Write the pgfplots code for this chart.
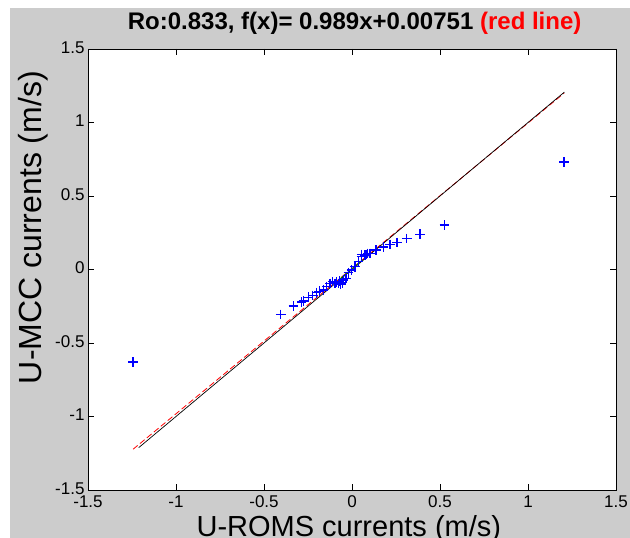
\documentclass[border=0pt]{standalone}
\usepackage{fontspec}
\setmainfont{Liberation Sans}
\usepackage{pgfplots}
\pgfplotsset{compat=1.18}
\definecolor{figgray}{RGB}{204,204,204}
\definecolor{mblue}{RGB}{0,0,255}
\definecolor{mgreen}{RGB}{0,128,0}
\begin{document}
\begin{tikzpicture}
\useasboundingbox (0pt,0pt) rectangle (630pt,538pt);
\fill[white] (0pt,0pt) rectangle (630pt,538pt);
\fill[figgray] (10pt,0pt) rectangle (630pt,530pt);
\begin{axis}[
  at={(88pt,48pt)}, anchor=south west,
  scale only axis, width=528pt, height=441pt,
  xmin=-1.5, xmax=1.5, ymin=-1.5, ymax=1.5,
  axis background/.style={fill=white},
  axis line style={black, line width=0.8pt},
  xtick={-1.5,-1,-0.5,0,0.5,1,1.5},
  ytick={-1.5,-1,-0.5,0,0.5,1,1.5},
  xticklabels={-1.5,-1,-0.5,0,0.5,1,1.5},
  yticklabels={-1.5,-1,-0.5,0,0.5,1,1.5},
  tick align=inside, major tick length=6pt,
  tick style={black, line width=0.6pt},
  xticklabel style={font=\fontsize{17}{17}\selectfont, yshift=-2.5pt},
  yticklabel style={font=\fontsize{17}{17}\selectfont, yshift=1.5pt},
  title={\textbf{Ro:0.833, f(x)= 0.989x+0.00751} \textcolor{red}{\textbf{(red line)}}},
  title style={at={(0.505,1.0317)}, anchor=base, font=\fontsize{24}{24}\selectfont},
  xlabel={U-ROMS currents (m/s)},
  xlabel style={at={(0.494,-0.1045)}, anchor=base, font=\fontsize{29}{29}\selectfont},
  ylabel={U-MCC currents (m/s)},
  ylabel style={at={(-0.104,0.595)}, anchor=center, font=\fontsize{32}{32}\selectfont},
]
\addplot[only marks, mark=+, mark size=4.8pt, mblue, line width=1.2pt] coordinates {
(-1.244,-0.629) (-0.405,-0.305) (-0.333,-0.248) (-0.286,-0.221) (-0.276,-0.214)
(-0.248,-0.189) (-0.223,-0.176) (-0.201,-0.158) (-0.186,-0.148) (-0.163,-0.139)
(-0.144,-0.117) (-0.125,-0.094) (-0.110,-0.083) (-0.097,-0.094) (-0.090,-0.085)
(-0.078,-0.094) (-0.070,-0.080) (-0.064,-0.099) (-0.055,-0.090) (-0.049,-0.071)
(-0.034,-0.060) (-0.021,-0.022) (-0.002,-0.003) (0.017,0.019) (0.036,0.053)
(0.055,0.087) (0.055,0.103) (0.074,0.099) (0.080,0.103) (0.087,0.110)
(0.102,0.110) (0.136,0.133) (0.178,0.153) (0.216,0.170) (0.256,0.185)
(0.311,0.212) (0.386,0.240) (0.525,0.303) (1.205,0.731)
};
\addplot[red, line width=0.8pt, dash pattern=on 6pt off 3pt] coordinates {(-1.244,-1.2228) (1.205,1.1993)};
\addplot[black, line width=0.7pt] coordinates {(-1.212,-1.212) (1.207,1.207)};
\addplot[mgreen, line width=0.8pt] coordinates {(-0.08,-0.075) (0.06,0.065)};
\end{axis}
\end{tikzpicture}
\end{document}
